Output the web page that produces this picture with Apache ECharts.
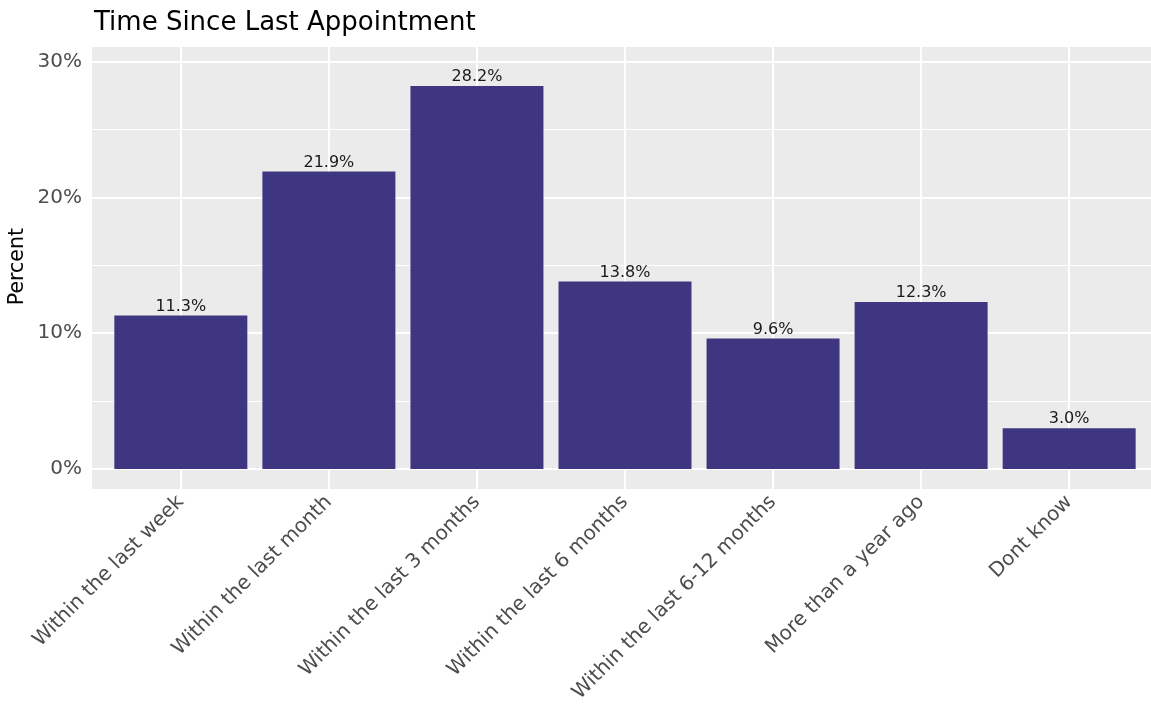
<!DOCTYPE html>
<html>
<head>
<meta charset="utf-8">
<script src="https://cdn.jsdelivr.net/npm/echarts@6/dist/echarts.min.js"></script>
<style>html,body{margin:0;padding:0;background:#fff}#c{width:1151px;height:715px}</style>
</head>
<body>
<div id="c"></div>
<script>
const categories = ["Within the last week","Within the last month","Within the last 3 months","Within the last 6 months","Within the last 6-12 months","More than a year ago","Dont know"];
const percents = [11.3, 21.9, 28.2, 13.8, 9.6, 12.3, 3.0];
const yTicks = [0, 10, 20, 30];
const yMinorLines = [5, 15, 25];

const FONT = "DejaVu Sans";
const chart = echarts.init(document.getElementById('c'), null, {renderer: 'canvas'});
const idx = categories.map((c, i) => i);

const gridLines = [];
yTicks.forEach(v => gridLines.push({yAxis: v, lineStyle: {width: 2}}));
yMinorLines.forEach(v => gridLines.push({yAxis: v, lineStyle: {width: 1}}));
idx.forEach(i => gridLines.push({xAxis: i, lineStyle: {width: 2}}));

chart.setOption({
  animation: false,
  backgroundColor: '#fff',
  title: {
    text: 'Time Since Last Appointment',
    left: 89, top: 5,
    textStyle: {fontFamily: FONT, fontSize: 26, fontWeight: 'normal', color: '#000'}
  },
  graphic: [{
    type: 'text', left: 7, top: 228, rotation: Math.PI / 2,
    style: {text: 'Percent', font: '20.5px "DejaVu Sans"', fill: '#000'}
  }],
  grid: {left: 92, right: -7, top: 47, bottom: 226, show: true, backgroundColor: '#EBEBEB', borderWidth: 0,
    containLabel: false, outerBoundsMode: 'none'},
  xAxis: {
    type: 'value', min: -0.6, max: 6.6,
    splitLine: {show: false},
    axisLine: {show: false},
    axisTick: {show: true, customValues: idx, length: 4, lineStyle: {color: '#333', width: 1}},
    axisLabel: {
      customValues: idx, rotate: 45, margin: 10,
      fontFamily: FONT, fontSize: 20, color: '#4D4D4D',
      formatter: v => categories[Math.round(v)]
    }
  },
  yAxis: {
    type: 'value', min: -1.48, max: 31.08,
    splitLine: {show: false},
    axisLine: {show: false},
    axisTick: {show: true, customValues: yTicks, length: 4, lineStyle: {color: '#333', width: 1}},
    axisLabel: {customValues: yTicks, margin: 10, fontFamily: FONT, fontSize: 20, color: '#4D4D4D', formatter: v => v + '%'}
  },
  series: [
    {
      type: 'line', data: [], z: 1, silent: true,
      markLine: {z: 1, silent: true, symbol: 'none', label: {show: false},
        lineStyle: {color: '#FFFFFF', type: 'solid'}, data: gridLines}
    },
    {
      type: 'bar', z: 3,
      data: percents.map((v, i) => [i, v]),
      barWidth: 133,
      itemStyle: {color: '#3F3682'},
      label: {show: true, position: 'top', distance: 1, fontFamily: FONT, fontSize: 16, color: '#1A1A1A',
        formatter: p => p.value[1].toFixed(1) + '%'}
    }
  ]
});
</script>
</body>
</html>
